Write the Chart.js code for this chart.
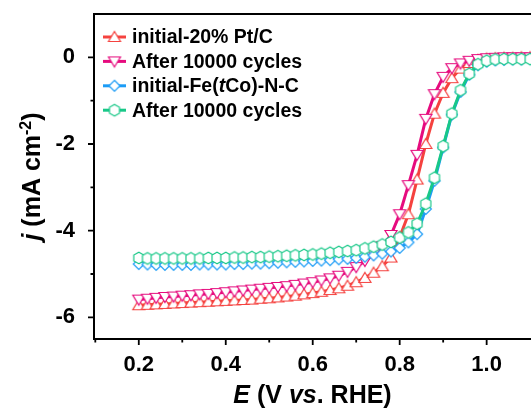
<!DOCTYPE html>
<html>
<head>
<meta charset="utf-8">
<script src="https://cdn.jsdelivr.net/npm/chart.js@4.4.0/dist/chart.umd.min.js"></script>
<style>
  body { margin: 0; background: #fff; }
  #wrap { width: 531px; height: 410px; position: relative; }
</style>
</head>
<body>
<div id="wrap"><canvas id="lsv"></canvas></div>
<script>
// Potential, V vs. RHE
const potential = [0.20, 0.22, 0.24, 0.26, 0.28, 0.30, 0.32, 0.34, 0.36, 0.38,
                   0.40, 0.42, 0.44, 0.46, 0.48, 0.50, 0.52, 0.54, 0.56, 0.58,
                   0.60, 0.62, 0.64, 0.66, 0.68, 0.70, 0.72, 0.74, 0.76, 0.78,
                   0.80, 0.82, 0.84, 0.86, 0.88, 0.90, 0.92, 0.94, 0.96, 0.98,
                   1.00, 1.02, 1.04, 1.06, 1.08, 1.10];

// Current density, mA cm-2
const ptInitial = [-5.72, -5.71, -5.70, -5.69, -5.68, -5.67, -5.66, -5.65, -5.64, -5.63,
                   -5.62, -5.61, -5.60, -5.59, -5.57, -5.56, -5.54, -5.52, -5.50, -5.47,
                   -5.44, -5.41, -5.37, -5.33, -5.27, -5.19, -5.09, -4.97, -4.82, -4.62,
                   -4.15, -3.62, -2.82, -2.00, -1.30, -0.82, -0.48, -0.26, -0.13, -0.06,
                   -0.03, -0.02, -0.01, -0.01, 0.00, 0.00];
const ptCycled = [-5.59, -5.57, -5.55, -5.53, -5.52, -5.50, -5.49, -5.47, -5.46, -5.44,
                  -5.42, -5.40, -5.38, -5.36, -5.34, -5.32, -5.30, -5.28, -5.25, -5.22,
                  -5.19, -5.15, -5.10, -5.04, -4.95, -4.84, -4.70, -4.54, -4.36, -4.10,
                  -3.62, -2.95, -2.25, -1.42, -0.85, -0.45, -0.25, -0.14, -0.08, -0.04,
                  -0.02, -0.01, 0.00, 0.00, 0.00, 0.00];
const feInitial = [-4.77, -4.78, -4.79, -4.79, -4.79, -4.79, -4.79, -4.78, -4.78, -4.78,
                   -4.78, -4.77, -4.77, -4.76, -4.76, -4.75, -4.74, -4.73, -4.72, -4.71,
                   -4.70, -4.69, -4.68, -4.66, -4.65, -4.63, -4.60, -4.57, -4.53, -4.48,
                   -4.40, -4.27, -4.08, -3.50, -2.85, -2.08, -1.32, -0.80, -0.40, -0.18,
                   -0.10, -0.07, -0.06, -0.05, -0.05, -0.04];
const feCycled = [-4.63, -4.64, -4.64, -4.64, -4.64, -4.64, -4.64, -4.64, -4.63, -4.63,
                  -4.63, -4.62, -4.62, -4.61, -4.61, -4.60, -4.59, -4.58, -4.57, -4.56,
                  -4.55, -4.53, -4.51, -4.49, -4.47, -4.45, -4.41, -4.37, -4.32, -4.26,
                  -4.16, -4.04, -3.84, -3.38, -2.78, -2.05, -1.30, -0.76, -0.38, -0.16,
                  -0.08, -0.05, -0.04, -0.04, -0.04, -0.04];

// Legend texts (*...* = italic)
const seriesNames = ['initial-20% Pt/C', 'After 10000 cycles', 'initial-Fe(*t*Co)-N-C', 'After 10000 cycles'];

// Ticks
const xMajorTicks = [0.2, 0.4, 0.6, 0.8, 1.0];
const xMinorTicks = [0.1, 0.3, 0.5, 0.7, 0.9];
const yMajorTicks = [0, -2, -4, -6];
const yMinorTicks = [-1, -3, -5];

const FONT = '"Liberation Sans", Arial, sans-serif';
const colors = ['#f5423f', '#e60b7e', '#1c9cf6', '#18c888'];
const shapes = ['up', 'down', 'diamond', 'hexagon'];

// Marcadores huecos dibujados en un canvas pequeño
function makeMarker(shape, color) {
  const c = document.createElement('canvas');
  c.width = 16; c.height = 16;
  const g = c.getContext('2d');
  g.translate(8, 8);
  g.beginPath();
  if (shape === 'up') {
    g.moveTo(0, -5.5); g.lineTo(6, 4.5); g.lineTo(-6, 4.5);
  } else if (shape === 'down') {
    g.moveTo(0, 5.5); g.lineTo(6, -4.5); g.lineTo(-6, -4.5);
  } else if (shape === 'diamond') {
    g.moveTo(0, -5.5); g.lineTo(5.5, 0); g.lineTo(0, 5.5); g.lineTo(-5.5, 0);
  } else {
    for (let k = 0; k < 6; k++) {
      const a = Math.PI / 2 + k * Math.PI / 3;
      const px = 5.8 * Math.cos(a), py = 5.8 * Math.sin(a);
      if (k === 0) g.moveTo(px, py); else g.lineTo(px, py);
    }
  }
  g.closePath();
  g.fillStyle = '#fff';
  g.fill();
  g.strokeStyle = color;
  g.lineWidth = 1.2;
  g.stroke();
  return c;
}

const markers = shapes.map((s, i) => makeMarker(s, colors[i]));
const allSeries = [ptInitial, ptCycled, feInitial, feCycled];

// Texto con partes en cursiva o superíndice
function drawRich(ctx, parts, x, y, size, align) {
  const fontFor = p => (p[1] === 'i' ? 'italic ' : '') + 'bold ' +
    (p[1] === 'sup' ? Math.round(size * 0.62) : size) + 'px ' + FONT;
  let total = 0;
  parts.forEach(p => { ctx.font = fontFor(p); total += ctx.measureText(p[0]).width; });
  let cx = align === 'center' ? x - total / 2 : x;
  ctx.textAlign = 'left';
  parts.forEach(p => {
    ctx.font = fontFor(p);
    ctx.fillText(p[0], cx, p[1] === 'sup' ? y - size * 0.38 : y);
    cx += ctx.measureText(p[0]).width;
  });
}

function parseItalic(str) {
  return str.split('*').map((t, i) => [t, i % 2 ? 'i' : '']).filter(p => p[0].length);
}

const decorations = {
  id: 'decorations',
  afterDraw(chart) {
    const { ctx, chartArea: a, scales: { x, y } } = chart;
    ctx.save();
    ctx.strokeStyle = '#000';
    ctx.fillStyle = '#000';
    ctx.lineWidth = 2;

    // línea superior del marco
    ctx.beginPath();
    ctx.moveTo(a.left - 1, a.top);
    ctx.lineTo(a.right, a.top);
    ctx.stroke();

    // marcas de los ejes (hacia fuera)
    ctx.lineWidth = 1.8;
    ctx.beginPath();
    xMajorTicks.forEach(v => { const p = x.getPixelForValue(v); ctx.moveTo(p, a.bottom); ctx.lineTo(p, a.bottom + 6); });
    xMinorTicks.forEach(v => { const p = x.getPixelForValue(v); ctx.moveTo(p, a.bottom); ctx.lineTo(p, a.bottom + 3.5); });
    yMajorTicks.forEach(v => { const p = y.getPixelForValue(v); ctx.moveTo(a.left, p); ctx.lineTo(a.left - 6, p); });
    yMinorTicks.forEach(v => { const p = y.getPixelForValue(v); ctx.moveTo(a.left, p); ctx.lineTo(a.left - 3.5, p); });
    ctx.stroke();

    // leyenda
    ctx.textBaseline = 'middle';
    seriesNames.forEach((name, i) => {
      const ly = a.top + 23 + i * 24.4;
      ctx.strokeStyle = colors[i];
      ctx.lineWidth = 3;
      ctx.beginPath();
      ctx.moveTo(a.left + 9, ly);
      ctx.lineTo(a.left + 32, ly);
      ctx.stroke();
      ctx.drawImage(markers[i], a.left + 20.5 - 8, ly - 8);
      ctx.fillStyle = '#000';
      drawRich(ctx, parseItalic(name), a.left + 38, ly + 1, 19.5, 'left');
    });

    // títulos de los ejes
    ctx.textBaseline = 'alphabetic';
    drawRich(ctx, [['E', 'i'], [' (V ', ''], ['vs', 'i'], ['. RHE)', '']],
      (a.left + a.right) / 2, 403, 25, 'center');
    ctx.save();
    ctx.translate(40, (a.top + a.bottom) / 2);
    ctx.rotate(-Math.PI / 2);
    drawRich(ctx, [['j', 'i'], [' (mA cm', ''], ['-2', 'sup'], [')', '']], 0, 0, 25, 'center');
    ctx.restore();

    ctx.restore();
  }
};

// sin márgenes extra por las etiquetas de los extremos
function noEdgePadding(s) {
  s.paddingTop = 0; s.paddingBottom = 0; s.paddingLeft = 0; s.paddingRight = 0;
}

const datasets = allSeries.map((arr, i) => ({
  label: seriesNames[i],
  data: potential.map((e, k) => ({ x: e, y: arr[k] })),
  borderColor: colors[i],
  borderWidth: 3,
  pointStyle: markers[i],
  pointRadius: 6,
  pointHoverRadius: 6,
  tension: 0,
  fill: false,
  order: 3 - i
}));

new Chart(document.getElementById('lsv'), {
  type: 'line',
  data: { datasets },
  plugins: [decorations],
  options: {
    responsive: true,
    maintainAspectRatio: false,
    animation: false,
    layout: { autoPadding: false, padding: { top: 14, right: 0, left: 0, bottom: 0 } },
    plugins: { legend: { display: false }, tooltip: { enabled: false } },
    scales: {
      x: {
        type: 'linear',
        min: 0.097,
        max: 1.102,
        afterBuildTicks: s => { s.ticks = xMajorTicks.map(v => ({ value: v })); },
        afterFit: s => { s.height = 71; noEdgePadding(s); },
        grid: { display: false },
        border: { display: true, color: '#000', width: 2 },
        ticks: {
          color: '#000',
          padding: 5,
          maxRotation: 0,
          font: { family: FONT, size: 22, weight: 'bold' },
          callback: v => v.toFixed(1)
        }
      },
      y: {
        type: 'linear',
        min: -6.5,
        max: 1.0,
        afterBuildTicks: s => { s.ticks = yMajorTicks.map(v => ({ value: v })); },
        afterFit: s => { s.width = 94; noEdgePadding(s); },
        grid: { display: false },
        border: { display: true, color: '#000', width: 2 },
        ticks: {
          color: '#000',
          padding: 11,
          font: { family: FONT, size: 22, weight: 'bold' },
          callback: v => String(v)
        }
      }
    }
  }
});
</script>
</body>
</html>
